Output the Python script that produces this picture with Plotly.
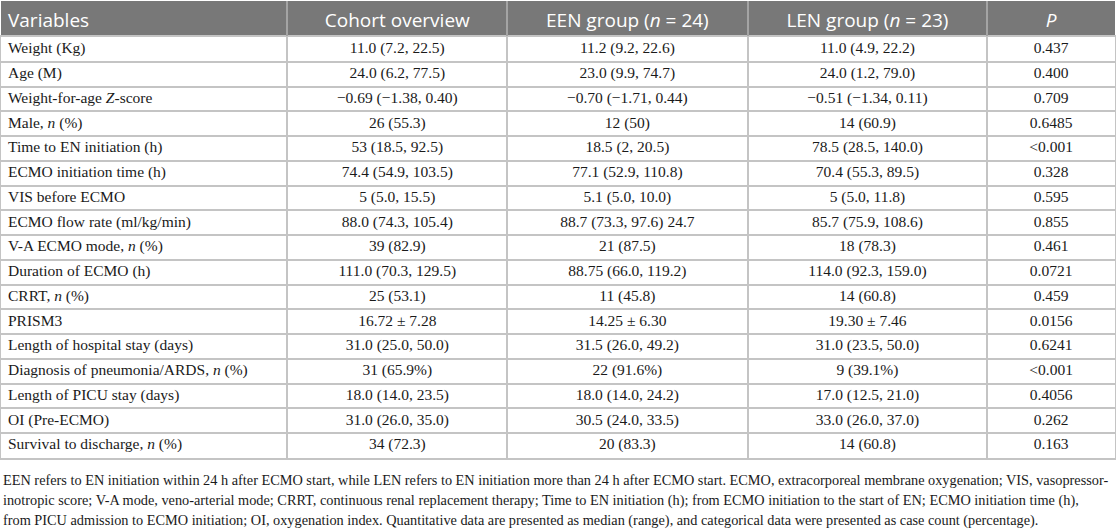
import plotly.graph_objects as go

# table columns
headers = ['Variables', 'Cohort overview', 'EEN group (<i>n</i> = 24)',
           'LEN group (<i>n</i> = 23)', '<i>P</i>']

variables = [
    'Weight (Kg)', 'Age (M)', 'Weight-for-age <i>Z</i>-score', 'Male, <i>n</i> (%)',
    'Time to EN initiation (h)', 'ECMO initiation time (h)', 'VIS before ECMO',
    'ECMO flow rate (ml/kg/min)', 'V-A ECMO mode, <i>n</i> (%)', 'Duration of ECMO (h)',
    'CRRT, <i>n</i> (%)', 'PRISM3', 'Length of hospital stay (days)',
    'Diagnosis of pneumonia/ARDS, <i>n</i> (%)', 'Length of PICU stay (days)',
    'OI (Pre-ECMO)', 'Survival to discharge, <i>n</i> (%)',
]
cohort = [
    '11.0 (7.2, 22.5)', '24.0 (6.2, 77.5)', '\u22120.69 (\u22121.38, 0.40)', '26 (55.3)',
    '53 (18.5, 92.5)', '74.4 (54.9, 103.5)', '5 (5.0, 15.5)', '88.0 (74.3, 105.4)',
    '39 (82.9)', '111.0 (70.3, 129.5)', '25 (53.1)', '16.72 \u00b1 7.28',
    '31.0 (25.0, 50.0)', '31 (65.9%)', '18.0 (14.0, 23.5)', '31.0 (26.0, 35.0)', '34 (72.3)',
]
een_group = [
    '11.2 (9.2, 22.6)', '23.0 (9.9, 74.7)', '\u22120.70 (\u22121.71, 0.44)', '12 (50)',
    '18.5 (2, 20.5)', '77.1 (52.9, 110.8)', '5.1 (5.0, 10.0)', '88.7 (73.3, 97.6) 24.7',
    '21 (87.5)', '88.75 (66.0, 119.2)', '11 (45.8)', '14.25 \u00b1 6.30',
    '31.5 (26.0, 49.2)', '22 (91.6%)', '18.0 (14.0, 24.2)', '30.5 (24.0, 33.5)', '20 (83.3)',
]
len_group = [
    '11.0 (4.9, 22.2)', '24.0 (1.2, 79.0)', '\u22120.51 (\u22121.34, 0.11)', '14 (60.9)',
    '78.5 (28.5, 140.0)', '70.4 (55.3, 89.5)', '5 (5.0, 11.8)', '85.7 (75.9, 108.6)',
    '18 (78.3)', '114.0 (92.3, 159.0)', '14 (60.8)', '19.30 \u00b1 7.46',
    '31.0 (23.5, 50.0)', '9 (39.1%)', '17.0 (12.5, 21.0)', '33.0 (26.0, 37.0)', '14 (60.8)',
]
p_values = [
    '0.437', '0.400', '0.709', '0.6485', '<0.001', '0.328', '0.595', '0.855', '0.461',
    '0.0721', '0.459', '0.0156', '0.6241', '<0.001', '0.4056', '0.262', '0.163',
]

footnote = [
    'EEN refers to EN initiation within 24 h after ECMO start, while LEN refers to EN initiation more than 24 h after ECMO start. ECMO, extracorporeal membrane oxygenation; VIS, vasopressor-',
    'inotropic score; V-A mode, veno-arterial mode; CRRT, continuous renal replacement therapy; Time to EN initiation (h); from ECMO initiation to the start of EN; ECMO initiation time (h),',
    'from PICU admission to ECMO initiation; OI, oxygenation index. Quantitative data are presented as median (range), and categorical data were presented as case count (percentage).',
]

W, H = 1116, 530
col_widths = [287, 220, 241, 240, 128]
total_w = sum(col_widths)
edges = [sum(col_widths[:i]) for i in range(len(col_widths) + 1)]
centers = [(edges[i] + edges[i + 1]) / 2 for i in range(len(col_widths))]
pad = 7

line_col = '#c4c4c4'
head_fill = '#787878'
body_font = dict(family='Liberation Serif', size=15.5, color='#1a1a1a')
head_font = dict(family='Open Sans', size=19, color='white')


def py(px):
    # pixel from top -> paper fraction
    return 1 - px / H


n_rows = len(variables)
rows = list(range(n_rows))
columns = [variables, cohort, een_group, len_group, p_values]

fig = go.Figure()

# header row (text sits a little below the middle, as in the source)
for i, h in enumerate(headers):
    left = i == 0
    fig.add_trace(go.Scatter(
        x=[edges[0] + pad if left else centers[i]], y=[0.12], text=[h], mode='text',
        textposition='middle right' if left else 'middle center',
        textfont=head_font, xaxis='x2', yaxis='y2', hoverinfo='skip', showlegend=False,
    ))

# body cells
for i, col in enumerate(columns):
    left = i == 0
    fig.add_trace(go.Scatter(
        x=[edges[0] + pad if left else centers[i]] * n_rows, y=rows, text=col, mode='text',
        textposition='middle right' if left else 'middle center',
        textfont=body_font, xaxis='x', yaxis='y', hoverinfo='skip', showlegend=False,
    ))

axis_common = dict(showticklabels=False, ticks='', zeroline=False, fixedrange=True)

fig.update_layout(
    width=W, height=H, margin=dict(l=1, r=1, t=0, b=0),
    paper_bgcolor='white', plot_bgcolor='white',
    xaxis=dict(range=[0, total_w], tickvals=edges[1:-1], showgrid=True,
               gridcolor=line_col, gridwidth=2, showline=True, mirror=True,
               linecolor=line_col, linewidth=2, anchor='y', **axis_common),
    yaxis=dict(range=[n_rows - 0.5, -0.5], tickvals=[r + 0.5 for r in rows[:-1]],
               showgrid=True, gridcolor=line_col, gridwidth=2, showline=True,
               mirror=True, linecolor=line_col, linewidth=2,
               domain=[py(458), py(37)], anchor='x', **axis_common),
    xaxis2=dict(range=[0, total_w], tickvals=edges[1:-1], showgrid=True,
                gridcolor='#a4a4a4', gridwidth=2, showline=False, anchor='y2',
                matches='x', **axis_common),
    yaxis2=dict(range=[0.5, -0.5], showgrid=False, showline=False,
                domain=[py(36), py(1)], anchor='x2', **axis_common),
)

# header background
fig.add_shape(type='rect', xref='x2 domain', yref='y2 domain', x0=0, x1=1, y0=0, y1=1,
              fillcolor=head_fill, line_width=0, layer='below')

for i, txt in enumerate(footnote):
    fig.add_annotation(
        x=0, y=py(479.5 + 20.5 * i), xref='paper', yref='paper',
        xanchor='left', yanchor='middle', showarrow=False, align='left',
        text=txt, font=dict(family='Liberation Serif', size=14.3, color='#1a1a1a'),
    )

# the page body has an 8px default margin; drop it so the table starts at the corner
fig.write_html('out.html', config={'displayModeBar': False},
               post_script="document.body.style.margin='0';")
